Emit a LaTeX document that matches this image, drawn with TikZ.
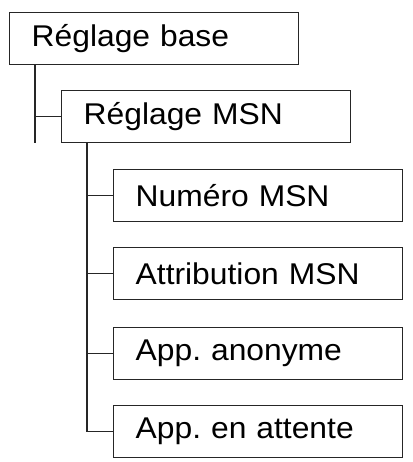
\documentclass[tikz,border=0pt]{standalone}
\usepackage{fontspec}
\setmainfont[FakeStretch=1.06]{Liberation Sans}
\frenchspacing
\begin{document}
\begin{tikzpicture}[x=1pt,y=-1pt,
  box/.style={draw=black!85,line width=1.4pt,minimum width=289pt,minimum height=52pt,anchor=north west,
    inner xsep=22pt,inner ysep=0pt,text width=245pt,align=left,font=\fontsize{30}{30}\selectfont},
  conn/.style={draw=black!85,line width=1.4pt}]
\useasboundingbox (0,0) rectangle (412,462);
\node[box] (b1) at (9,12) {Réglage base};
\node[box] (b2) at (61,90) {Réglage MSN};
\node[box] (c1) at (113,169) {Numéro MSN};
\node[box] (c2) at (113,247) {Attribution MSN};
\node[box] (c3) at (113,327) {App. anonyme};
\node[box] (c4) at (113,405) {App. en attente};
\coordinate (e1) at (35,143);
\draw[conn] (b1.south west -| e1) -- (e1);
\draw[conn] (b2.west -| e1) -- (b2.west);
\coordinate (v2) at (87,0);
\draw[conn] (b2.south west -| v2) -- (c4.west -| v2) -- (c4.west);
\draw[conn] (c1.west -| v2) -- (c1.west);
\draw[conn] (c2.west -| v2) -- (c2.west);
\draw[conn] (c3.west -| v2) -- (c3.west);
\end{tikzpicture}
\end{document}
